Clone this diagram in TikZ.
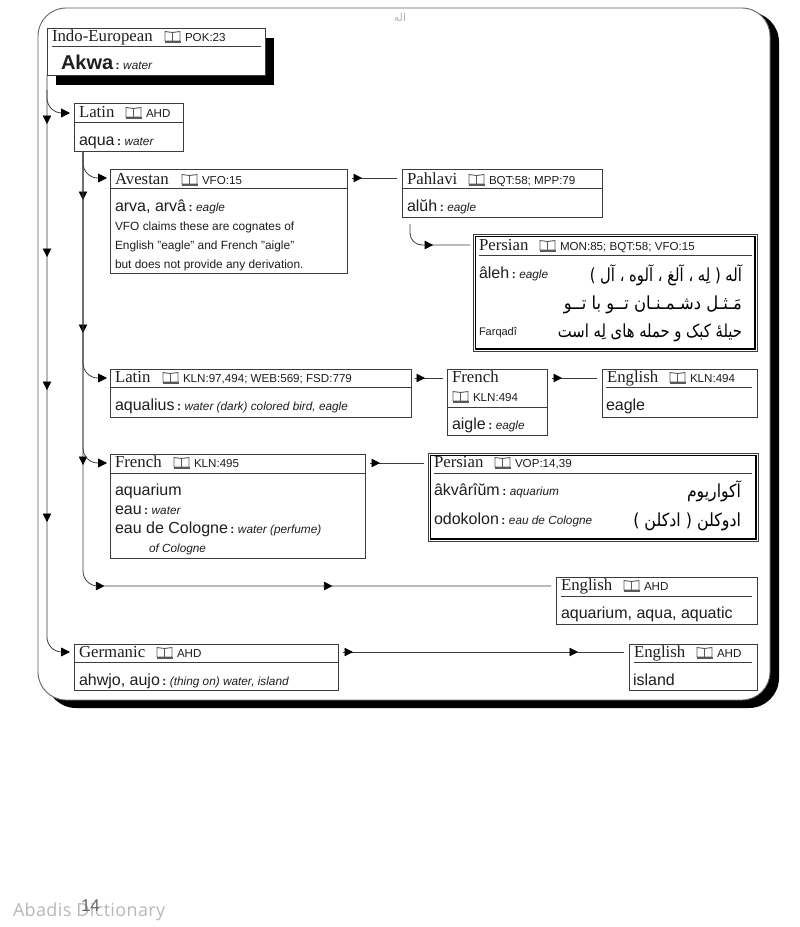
\documentclass[tikz,border=0pt]{standalone}
\usepackage{fontspec}
\setmainfont{Liberation Serif}
\setsansfont{Liberation Sans}
\newfontfamily\arabicfont[Script=Arabic]{DejaVu Sans}
\newfontfamily\wmfont[LetterSpace=2]{Open Sans}
\TeXXeTstate=1
\usetikzlibrary{arrows.meta,decorations.markings}
\definecolor{ink}{HTML}{1E1E1E}
\definecolor{edge}{HTML}{3C3C3C}
\newcounter{txtc}
\newcommand{\fsz}[1]{\fontsize{#1}{#1}\selectfont}
% plain text: font commands, x, baseline, text
\newcommand{\tx}[4]{\stepcounter{txtc}\node[lbl] (t\arabic{txtc}) at (#2,#3) {#1#4};}
% language header: x, baseline, language, book x, reference
\newcommand{\hdr}[5]{\tx{\rmfamily\fsz{16.8}}{#1}{#2}{#3}\pic at (#4,#2) {bookicon};\tx{\sffamily\fsz{11.6}}{#4+20}{#2}{#5}}
\newcommand{\gl}[4]{\tx{\sffamily\fsz{16}}{#1}{#2}{#3\fsz{12}\hspace{2.5pt}\textbf{:}\hspace{3.5pt}{\itshape\fsz{11.8}#4}}}
% Arabic line: right x, baseline, size, horizontal scale, text
\newcommand{\ar}[5]{\stepcounter{txtc}\node[arlbl] (t\arabic{txtc}) at (#1,#2) {\scalebox{#4}[1]{\fsz{#3}\arabicfont #5}};}
% box: x1, y1, x2, y2, name
\newcommand{\bx}[5]{\node[boxn,minimum width={(#3-#1)*1pt},minimum height={(#4-#2)*1pt}] (#5) at (#1,#2) {};}
\tikzset{
  x=1pt,y=-1pt,
  lbl/.style={anchor=base west,inner sep=0pt,outer sep=0pt,text=ink},
  arlbl/.style={anchor=base east,inner sep=0pt,outer sep=0pt,text=black},
  boxn/.style={draw=edge,line width=0.9pt,fill=white,anchor=north west,inner sep=0pt,outer sep=0pt},
  rulen/.style={draw=edge,line width=0.9pt},
  conn/.style={draw=edge,line width=0.8pt},
  hd/.style={-{Triangle[length=9pt,width=9pt,color=black]}},
  mk/.style={postaction={decorate},decoration={markings,mark=at position #1pt with {\arrow[black]{Triangle[length=8.5pt,width=8.5pt]}}}},
  mktwo/.style 2 args={postaction={decorate},decoration={markings,mark=at position #1pt with {\arrow[black]{Triangle[length=8.5pt,width=8.5pt]}},mark=at position #2pt with {\arrow[black]{Triangle[length=8.5pt,width=8.5pt]}}}},
  bookicon/.pic={
    \draw[edge!85,line width=0.9pt,fill=white] (0,-9.5) -- (7.5,-8.5) -- (7.5,0) -- (0,0) -- cycle;
    \draw[edge!85,line width=0.9pt,fill=white] (15,-9.5) -- (7.5,-8.5) -- (7.5,0) -- (15,0) -- cycle;
    \draw[edge!85,line width=1.1pt] (-0.5,1) -- (15.5,1);
  }
}
\begin{document}
\begin{tikzpicture}
\useasboundingbox (0,0) rectangle (800,927);
\fill[white] (0,0) rectangle (800,927);
% frame
\fill[black,rounded corners=30pt] (46,12) rectangle (779,708);
\draw[fill=white,draw=edge!80,line width=0.9pt,rounded corners=28pt] (38,8) rectangle (770,700);
\stepcounter{txtc}\node[arlbl,text=black!30,anchor=base] (t\arabic{txtc}) at (400,21) {\fsz{11}\arabicfont\beginR اله\endR};

% Indo-European
\fill[black] (56,38) rectangle (274,85);
\bx{47}{28}{265}{75}{ie}
\draw[rulen] (52,46) -- (261,46);
\hdr{52}{41}{Indo-European}{165}{POK:23}
\tx{\sffamily\bfseries\fsz{20}}{61}{69}{Akwa\fsz{12}\hspace{2.5pt}:\hspace{3.5pt}{\mdseries\itshape\fsz{11.8}water}}

% Latin
\bx{74}{103}{183}{151}{latinA}
\draw[rulen] (74,122) -- (183,122);
\hdr{79}{117}{Latin}{126}{AHD}
\gl{79}{145}{aqua}{water}

% Avestan
\bx{110}{169}{347}{273}{avestan}
\draw[rulen] (110,188) -- (347,188);
\hdr{115}{184}{Avestan}{182}{VFO:15}
\gl{115}{211}{arva, arvâ}{eagle}
\tx{\sffamily\fsz{11.9}}{115}{230}{VFO claims these are cognates of}
\tx{\sffamily\fsz{11.9}}{115}{249}{English "eagle" and French "aigle"}
\tx{\sffamily\fsz{11.9}}{115}{268}{but does not provide any derivation.}

% Pahlavi
\bx{402}{169}{602}{217}{pahlavi}
\draw[rulen] (402,188) -- (602,188);
\hdr{407}{184}{Pahlavi}{469}{BQT:58; MPP:79}
\gl{407}{211}{alŭh}{eagle}

% Persian 1
\bx{473}{234}{757}{351}{persianA}
\node[boxn,draw=black,minimum width=280pt,minimum height=113pt] (persianAi) at (475,236) {};
\draw[black,line width=2pt] (755,236) -- (755,349) -- (475,349);
\draw[rulen] (479,255) -- (752,255);
\hdr{479}{250}{Persian}{540}{MON:85; BQT:58; VFO:15}
\gl{479}{278}{âleh}{eagle}
\tx{\sffamily\fsz{11}}{479}{335}{Farqadî}
\ar{742}{281}{18}{0.82}{\beginR آله ( لِه ، آلغ ، آلوه ، آل )\endR}
\ar{742}{309}{18}{0.91}{\beginR مَـثـل دشـمـنـان تــو با تــو\endR}
\ar{742}{337}{18}{0.82}{\beginR حیلهٔ کبک و حمله های لِه است\endR}

% Latin 2
\bx{110}{369}{411}{417}{latinB}
\draw[rulen] (110,387) -- (411,387);
\hdr{115}{382}{Latin}{163}{KLN:97,494; WEB:569; FSD:779}
\gl{115}{410}{aqualius}{water (dark) colored bird, eagle}

% French 1
\bx{447}{369}{547}{435}{frenchA}
\draw[rulen] (447,407) -- (547,407);
\tx{\rmfamily\fsz{16.8}}{452}{382}{French}
\pic at (453,401) {bookicon};
\tx{\sffamily\fsz{11.6}}{473}{401}{KLN:494}
\gl{452}{429}{aigle}{eagle}

% English 1
\bx{602}{369}{757}{417}{englishA}
\draw[rulen] (606,387) -- (752,387);
\hdr{607}{382}{English}{670}{KLN:494}
\tx{\sffamily\fsz{16}}{606}{410}{eagle}

% French 2
\bx{110}{454}{365}{558}{frenchB}
\draw[rulen] (110,473) -- (365,473);
\hdr{115}{467}{French}{174}{KLN:495}
\tx{\sffamily\fsz{16}}{115}{495}{aquarium}
\gl{115}{514}{eau}{water}
\gl{115}{533}{eau de Cologne}{water (perfume)}
\tx{\sffamily\itshape\fsz{11.8}}{149}{552}{of Cologne}

% Persian 2
\bx{428}{453}{758}{541}{persianB}
\node[boxn,draw=black,minimum width=326pt,minimum height=84pt] (persianBi) at (430,455) {};
\draw[black,line width=2pt] (756,455) -- (756,539) -- (430,539);
\draw[rulen] (434,473) -- (752,473);
\hdr{434}{467}{Persian}{495}{VOP:14,39}
\gl{434}{495}{âkvârîŭm}{aquarium}
\gl{434}{524}{odokolon}{eau de Cologne}
\ar{741}{497}{18}{0.87}{آکواریوم}
\ar{741}{526}{18}{0.88}{\beginR ادوکلن ( ادکلن )\endR}

% English 2
\bx{556}{577}{757}{624}{englishB}
\draw[rulen] (561,596) -- (752,596);
\hdr{561}{590}{English}{624}{AHD}
\tx{\sffamily\fsz{16}}{561}{618}{aquarium, aqua, aquatic}

% Germanic
\bx{74}{644}{338}{690}{germanic}
\draw[rulen] (74,662) -- (338,662);
\hdr{79}{657}{Germanic}{157}{AHD}
\gl{79}{685}{ahwjo, aujo}{(thing on) water, island}

% English 3
\bx{629}{644}{757}{690}{englishC}
\draw[rulen] (634,662) -- (752,662);
\hdr{634}{657}{English}{697}{AHD}
\tx{\sffamily\fsz{16}}{633}{685}{island}

% trunks and branches
\draw[conn,hd,rounded corners=15pt,postaction={decorate},decoration={markings,
   mark=at position 49pt with {\arrow[black]{Triangle[length=8.5pt,width=8.5pt]}},
   mark=at position 182pt with {\arrow[black]{Triangle[length=8.5pt,width=8.5pt]}},
   mark=at position 315pt with {\arrow[black]{Triangle[length=8.5pt,width=8.5pt]}},
   mark=at position 447pt with {\arrow[black]{Triangle[length=8.5pt,width=8.5pt]}}}]
   (ie.south west) |- ([shift={(-4,8)}]germanic.north west);
\draw[conn,hd,rounded corners=15pt] ([yshift=-15pt]ie.south west) |- ([shift={(-4,10)}]latinA.north west);

\coordinate (trunkB) at ([xshift=9pt]latinA.south west);
\draw[conn,rounded corners=15pt,postaction={decorate},decoration={markings,
   mark=at position 49pt with {\arrow[black]{Triangle[length=8.5pt,width=8.5pt]}},
   mark=at position 182pt with {\arrow[black]{Triangle[length=8.5pt,width=8.5pt]}},
   mark=at position 314pt with {\arrow[black]{Triangle[length=8.5pt,width=8.5pt]}},
   mark=at position 450pt with {\arrow[black]{Triangle[length=8.5pt,width=8.5pt]}},
   mark=at position 678pt with {\arrow[black]{Triangle[length=8.5pt,width=8.5pt]}}}]
   (trunkB) |- ([shift={(-5,9)}]englishB.north west);
\draw[conn,hd,rounded corners=15pt] (trunkB) |- ([shift={(-3,9)}]avestan.north west);
\draw[conn,hd,rounded corners=15pt] (trunkB) |- ([shift={(-3,9)}]latinB.north west);
\draw[conn,hd,rounded corners=15pt] (trunkB) |- ([shift={(-3,9)}]frenchB.north west);

% horizontal connectors
\draw[conn,mk=10] ([shift={(5,9)}]avestan.north east) -- ([shift={(-5,9)}]pahlavi.north west);
\draw[conn,mk=39,rounded corners=12pt] ([shift={(8,7)}]pahlavi.south west) |- ([shift={(-3,11)}]persianA.north west);
\draw[conn,mk=10] ([shift={(4,9)}]latinB.north east) -- ([shift={(-4,9)}]frenchA.north west);
\draw[conn,mk=10] ([shift={(5,9)}]frenchA.north east) -- ([shift={(-5,9)}]englishA.north west);
\draw[conn,mk=10] ([shift={(5,9)}]frenchB.north east) -- ([shift={(-4,10)}]persianB.north west);
\draw[conn,mktwo={10}{235}] ([shift={(5,8)}]germanic.north east) -- ([shift={(-5,8)}]englishC.north west);

% footer
\tx{\wmfont\color{black!28}\fsz{18}}{13}{916}{Abadis Dictionary}
\tx{\sffamily\color{black!60}\fsz{17}}{81}{911}{14}
\end{tikzpicture}
\end{document}
